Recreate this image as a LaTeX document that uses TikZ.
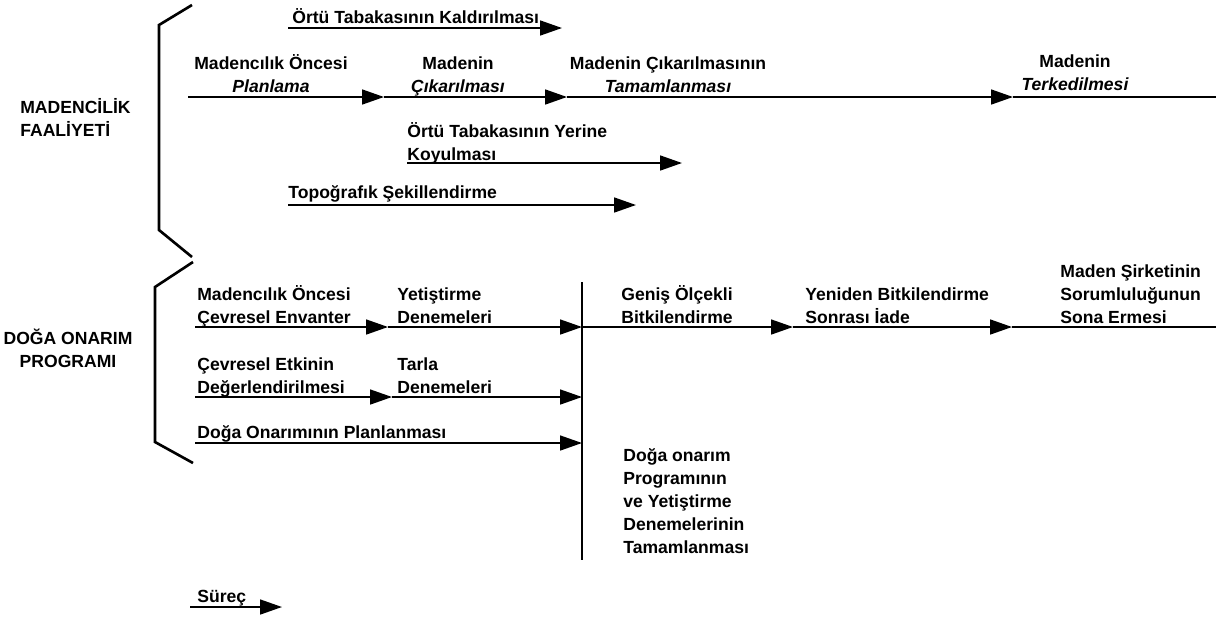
\documentclass[tikz,border=0pt]{standalone}
\usepackage{fontspec}
\setmainfont{Liberation Sans}
\usepackage{tikz}
\usetikzlibrary{arrows.meta}

\tikzset{
  lbl/.style={font=\fontsize{10}{13}\selectfont\bfseries, inner sep=0pt, align=left, anchor=base west},
  lblc/.style={lbl, align=center, anchor=base},
  flow/.style={line width=1pt, -{Triangle[length=12.5pt,width=8.5pt]}},
  brak/.style={line width=1.5pt, line join=miter},
  divider/.style={line width=0.9pt}
}

\begin{document}
\begin{tikzpicture}[x=0.02cm, y=-0.02cm]
    \useasboundingbox (0,0) rectangle (1216,623);
    \draw[brak] (192,5) -- (159,25) -- (159,230) -- (192,257);
    \draw[brak] (193,262) -- (155,287) -- (155,442) -- (193,463);
    \node[lbl] (madfaal) at (20,136) {MADENCİLİK\\FAALİYETİ};
    \node[lblc] (dogaprog) at (68,367) {DOĞA ONARIM\\PROGRAMI};

    \coordinate (o0) at (288,28);
    \coordinate (o1) at (562,28);
    \coordinate (m0) at (188,97);
    \coordinate (m1) at (384,97);
    \coordinate (m2) at (567,97);
    \coordinate (m3) at (1013,97);
    \coordinate (m4) at (1216,97);
    \coordinate (k0) at (407,163);
    \coordinate (k1) at (682,163);
    \coordinate (t0) at (288,205);
    \coordinate (t1) at (636,205);
    \draw[flow] (o0) -- (o1);
    \draw[flow] (m0) -- (m1);
    \draw[flow] (m1) -- (m2);
    \draw[flow] (m2) -- (m3);
    \draw[line width=1pt] (m3) -- (m4);
    \draw[flow] (k0) -- (k1);
    \draw[flow] (t0) -- (t1);
    \node[lbl] (kaldir) at (292,23) {Örtü Tabakasının Kaldırılması};
    \node[lblc] (planla) at (271,92) {Madencılık Öncesi\\\itshape Planlama};
    \node[lblc] (cikar) at (458,92) {Madenin\\\itshape Çıkarılması};
    \node[lblc] (tamam) at (668,92) {Madenin Çıkarılmasının\\\itshape Tamamlanması};
    \node[lblc] (terk) at (1075,90) {Madenin\\\itshape Terkedilmesi};
    \node[lbl] (koy) at (407,160) {Örtü Tabakasının Yerine\\Koyulması};
    \node[lbl] (topo) at (288,198) {Topoğrafık Şekillendirme};

    \coordinate (vtop) at (582,282);
    \coordinate (vbot) at (582,560);
    \draw[divider] (vtop) -- (vbot);
    \coordinate (a0) at (195,327);
    \coordinate (a1) at (388,327);
    \coordinate (a2) at (582,327);
    \coordinate (a3) at (793,327);
    \coordinate (a4) at (1012,327);
    \coordinate (a5) at (1216,327);
    \coordinate (b0) at (195,397);
    \coordinate (b1) at (392,397);
    \coordinate (b2) at (582,397);
    \coordinate (c0) at (195,443);
    \coordinate (c1) at (582,443);
    \draw[flow] (a0) -- (a1);
    \draw[flow] (a1) -- (a2);
    \draw[flow] (a2) -- (a3);
    \draw[flow] (a3) -- (a4);
    \draw[line width=1pt] (a4) -- (a5);
    \draw[flow] (b0) -- (b1);
    \draw[flow] (b1) -- (b2);
    \draw[flow] (c0) -- (c1);
    \node[lbl] (envanter) at (197,323) {Madencılık Öncesi\\Çevresel Envanter};
    \node[lbl] (yetis) at (397,323) {Yetiştirme\\Denemeleri};
    \node[lbl] (genis) at (621,323) {Geniş Ölçekli\\Bitkilendirme};
    \node[lbl] (iade) at (805,323) {Yeniden Bitkilendirme\\Sonrası İade};
    \node[lbl] (sorum) at (1060,323) {Maden Şirketinin\\Sorumluluğunun\\Sona Ermesi};
    \node[lbl] (etki) at (197,393) {Çevresel Etkinin\\Değerlendirilmesi};
    \node[lbl] (tarla) at (397,393) {Tarla\\Denemeleri};
    \node[lbl] (planonar) at (197,438) {Doğa Onarımının Planlanması};
    \node[lbl] (bitis) at (623,553) {Doğa onarım\\Programının\\ve Yetiştirme\\Denemelerinin\\Tamamlanması};

    \coordinate (s0) at (190,607);
    \coordinate (s1) at (282,607);
    \draw[flow] (s0) -- (s1);
    \node[lbl] (surec) at (197,602) {Süreç};
\end{tikzpicture}
\end{document}
